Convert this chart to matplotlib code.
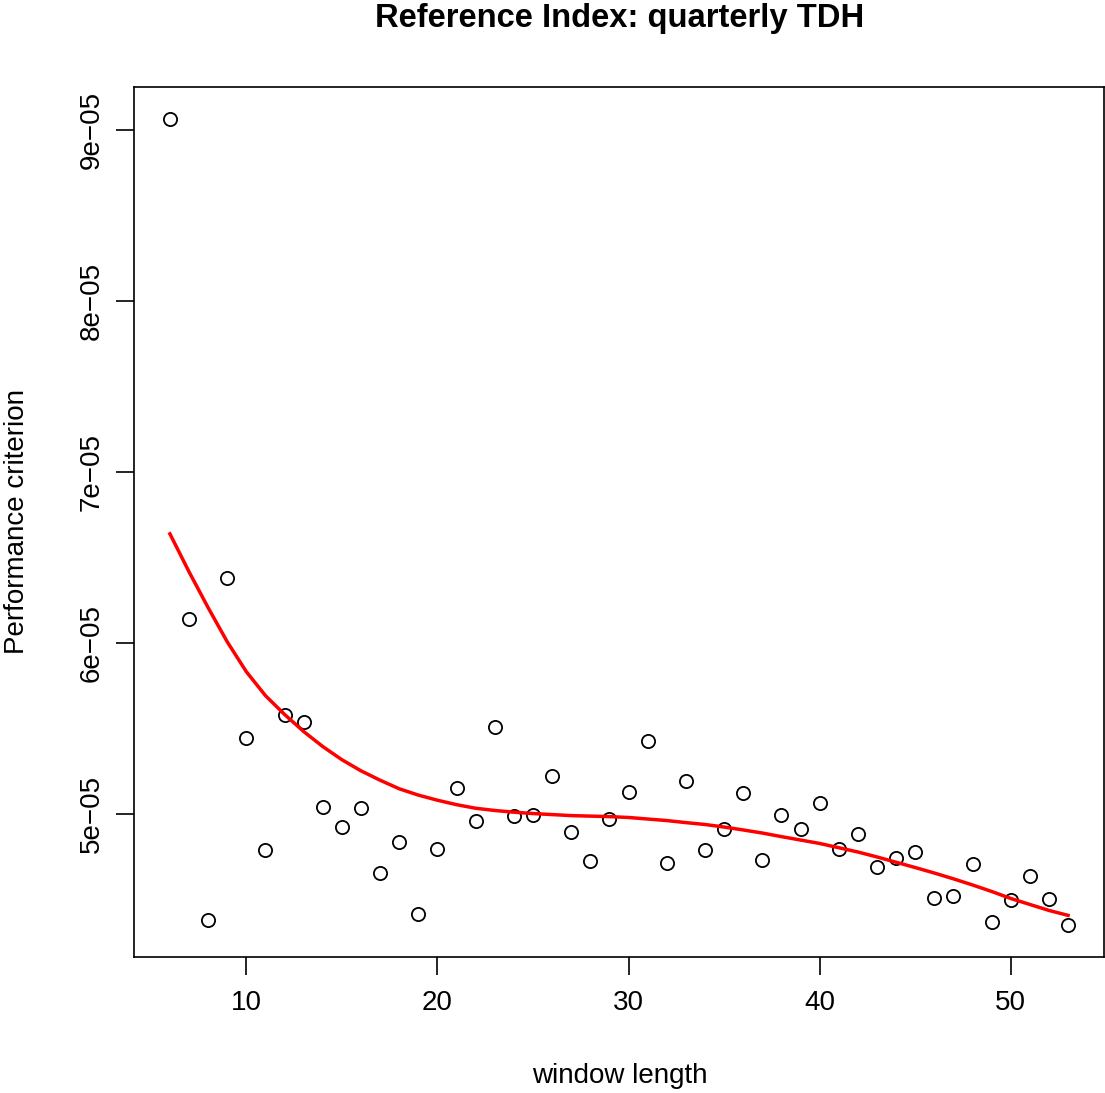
import matplotlib
matplotlib.use("Agg")
import matplotlib.pyplot as plt
import numpy as np

plt.rcParams['font.family'] = ['Liberation Sans', 'DejaVu Sans']

# window lengths tested
window = list(range(6, 54))

# performance criterion per window (units of 1e-05)
criterion = [
    9.064, 6.140, 4.378, 6.380, 5.440, 4.788, 5.579, 5.534, 5.041, 4.922,
    5.033, 4.653, 4.832, 4.413, 4.795, 5.150, 4.955, 5.505, 4.987, 4.990,
    5.220, 4.891, 4.725, 4.971, 5.127, 5.423, 4.708, 5.193, 4.789, 4.908,
    5.123, 4.729, 4.994, 4.908, 5.063, 4.794, 4.883, 4.690, 4.741, 4.776,
    4.505, 4.515, 4.704, 4.368, 4.495, 4.637, 4.499, 4.349,
]

# smoothed trend (units of 1e-05)
trend = [
    6.637, 6.415, 6.205, 6.005, 5.830, 5.690, 5.580, 5.480, 5.392, 5.315,
    5.250, 5.195, 5.145, 5.108, 5.078, 5.052, 5.031, 5.018, 5.008, 5.000,
    4.994, 4.988, 4.985, 4.982, 4.977, 4.968, 4.959, 4.947, 4.936, 4.921,
    4.904, 4.886, 4.865, 4.845, 4.825, 4.800, 4.775, 4.746, 4.715, 4.684,
    4.652, 4.618, 4.582, 4.544, 4.503, 4.468, 4.433, 4.404,
]

yticks = [5, 6, 7, 8, 9]
ytick_labels = ["5e\u221205", "6e\u221205", "7e\u221205", "8e\u221205", "9e\u221205"]
xticks = [10, 20, 30, 40, 50]

x = np.array(window)
y = np.array(criterion) * 1e-5
y_fit = np.array(trend) * 1e-5

fig = plt.figure(figsize=(11.05, 10.93), dpi=100)
ax = fig.add_axes([134 / 1105, 1 - 957 / 1093, 970 / 1105, 870 / 1093])

ax.plot(x, y, linestyle='none', marker='o', markersize=9.5,
        markerfacecolor='none', markeredgecolor='black', markeredgewidth=1.3)
ax.plot(x, y_fit, color='red', linewidth=2.5)

# R-style 4% padding on both axes
xr = x.max() - x.min()
ax.set_xlim(x.min() - 0.04 * xr, x.max() + 0.04 * xr)
yr = y.max() - y.min()
ax.set_ylim(y.min() - 0.04 * yr, y.max() + 0.04 * yr)

ax.set_xticks(xticks)
ax.set_xticklabels([str(t) for t in xticks])
ax.set_yticks([t * 1e-5 for t in yticks])
ax.set_yticklabels(ytick_labels, rotation=90, va='center')

ax.tick_params(axis='both', length=13, width=1.2, labelsize=20, direction='out')
ax.tick_params(axis='x', pad=11)
ax.tick_params(axis='y', pad=8)
for s in ax.spines.values():
    s.set_linewidth(1.2)

fig.text(620 / 1105, 1 - 1076 / 1093, "window length", ha='center', va='center', fontsize=20)
fig.text(17 / 1105, 1 - 522 / 1093, "Performance criterion", ha='center', va='center',
         rotation=90, fontsize=20)
fig.text(620 / 1105, 1 - 18 / 1093, "Reference Index: quarterly TDH", ha='center', va='center',
         fontsize=23.6, fontweight='bold')

fig.savefig("out.png", dpi=100)
